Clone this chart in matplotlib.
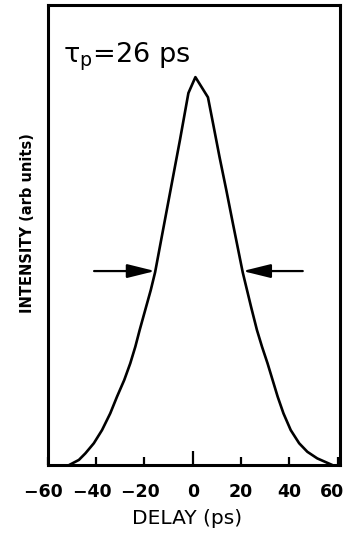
import matplotlib
matplotlib.use("Agg")
import matplotlib.pyplot as plt
from matplotlib.transforms import ScaledTranslation

# Autocorrelation trace: delay (ps) vs. normalized intensity
delay_ps = [-51.2, -47.2, -44.5, -41.0, -37.6, -34.2, -31.4, -28.4, -25.9,
            -23.8, -22.0, -17.4, -15.6, -13.1, -9.2, -5.3, -1.8, 1.1,
            6.3, 8.4, 11.1, 13.9, 16.6, 20.7, 24.2, 26.6, 28.7, 31.0, 33.1,
            35.2, 37.6, 40.6, 44.1, 47.5, 51.6, 57.8]
intensity = [0.0, 0.013, 0.030, 0.056, 0.090, 0.133, 0.176, 0.219, 0.262,
             0.305, 0.348, 0.451, 0.497, 0.580, 0.709, 0.838, 0.959, 1.0,
             0.948, 0.881, 0.794, 0.709, 0.624, 0.497, 0.407, 0.348, 0.305,
             0.262, 0.219, 0.176, 0.133, 0.090, 0.056, 0.034, 0.017, 0.0]

# FWHM markers (half-maximum level, arrow tails and heads)
half_level = 0.5
left_arrow = (-40.9, -15.6)
right_arrow = (45.6, 20.7)

xticks = [-60, -40, -20, 0, 20, 40, 60]
xlabel = "DELAY (ps)"
ylabel = "INTENSITY (arb units)"
pulse_label = r"$\mathregular{\tau_p}$=26 ps"

plt.rcParams["font.family"] = ["DejaVu Sans"]
plt.rcParams["mathtext.fontset"] = "dejavusans"

fig = plt.figure(figsize=(3.49, 5.36), dpi=100)
ax = fig.add_axes([0.1375, 0.1325, 0.8365, 0.8582])

ax.plot(delay_ps, intensity, color="black", lw=1.9,
        solid_joinstyle="round", solid_capstyle="round")

for tail, head in (left_arrow, right_arrow):
    ax.annotate("", xy=(head, half_level), xytext=(tail, half_level),
                arrowprops=dict(arrowstyle="-|>,head_length=1.7,head_width=0.42",
                                color="black", lw=1.6, shrinkA=0, shrinkB=0))


def tick_text(v):
    # negative labels keep the digits centred under the tick, sign hanging left
    if v < 0:
        return "\u2212" + str(abs(v)) + "\u2002"
    return str(v)


ax.set_xlim(-60, 61)
ax.set_ylim(0, 1.186)
ax.set_xticks(xticks)
ax.set_xticklabels([tick_text(t) for t in xticks], fontsize=12.5, fontweight="bold")
ax.set_yticks([])
ax.tick_params(axis="x", direction="in", length=6, width=1.6, pad=13)
for tick, val in zip(ax.xaxis.get_major_ticks(), xticks):
    if val == 0:
        tick.tick1line.set_markersize(10)

# keep the last tick label clear of the right figure edge
last = ax.get_xticklabels()[-1]
last.set_transform(last.get_transform() +
                   ScaledTranslation(-4 / 72, 0, fig.dpi_scale_trans))

for sp in ax.spines.values():
    sp.set_linewidth(2.2)

ax.set_xlabel(xlabel, fontsize=14.5)
ax.xaxis.set_label_coords(0.476, -0.095)
ax.set_ylabel(ylabel, fontsize=10.5, fontweight="bold")
ax.yaxis.set_label_coords(-0.045, 0.525)

ax.text(0.051, 0.876, pulse_label, transform=ax.transAxes, fontsize=19.5,
        ha="left", va="baseline")

fig.savefig("out.png", dpi=100)
